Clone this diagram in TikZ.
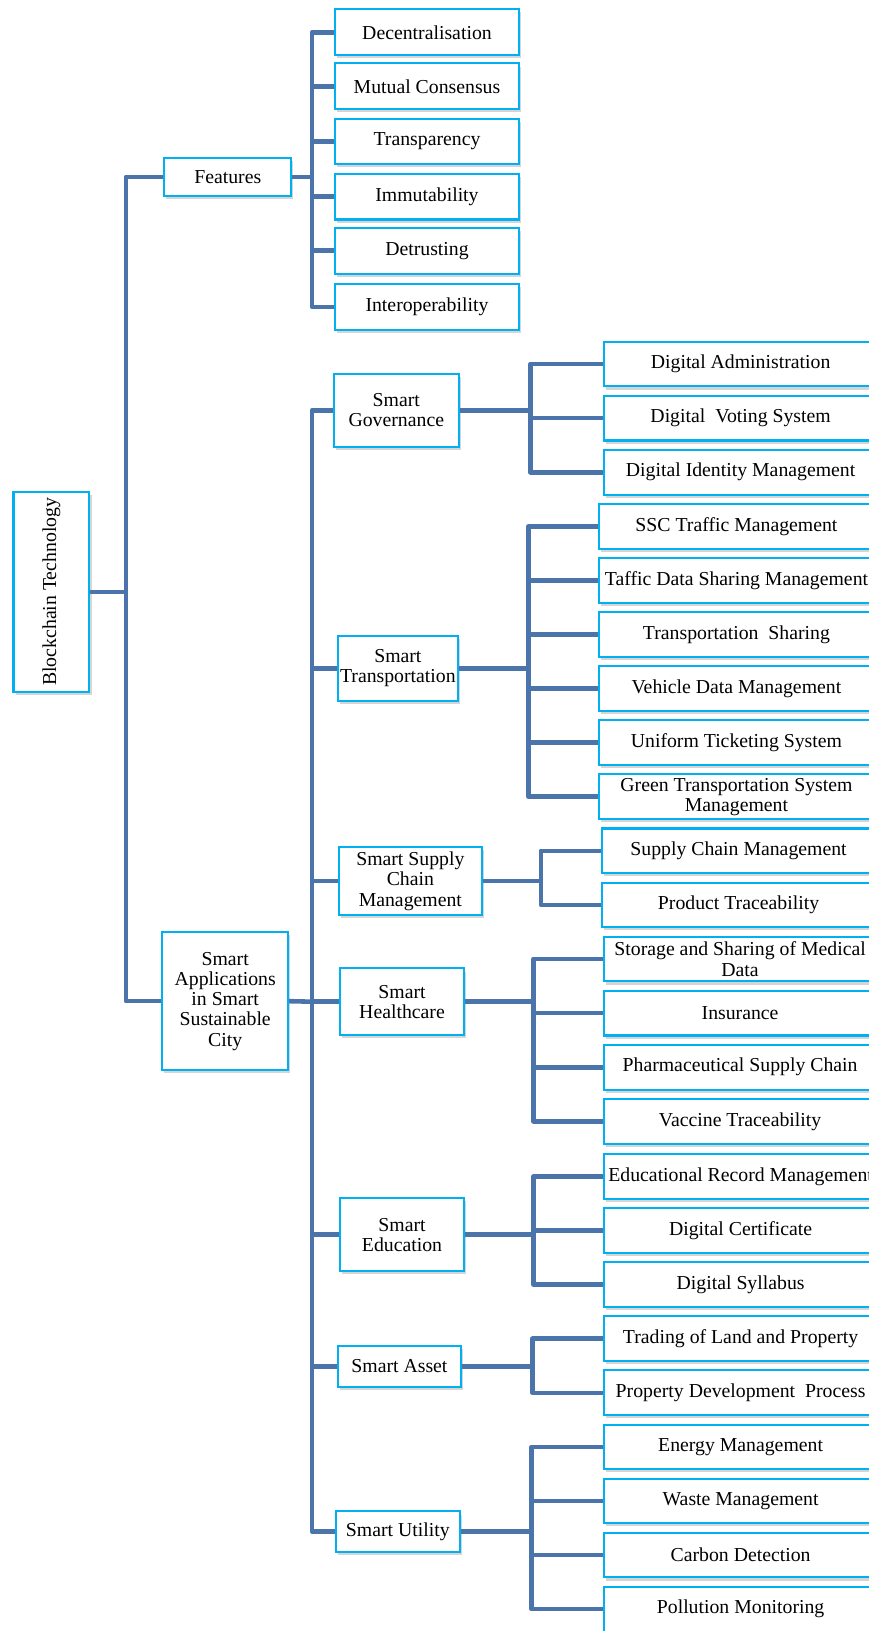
\documentclass[tikz,border=0pt]{standalone}
\usepackage{fontspec}
\setmainfont{Liberation Serif}
\usetikzlibrary{shadows}
\definecolor{linkblue}{HTML}{4A74AA}
\definecolor{edgecyan}{HTML}{00B0F0}
\pgfdeclarelayer{bg}
\pgfsetlayers{bg,main}
\begin{document}
\begin{tikzpicture}[x=1pt,y=-1pt,
  box/.style={draw=edgecyan, line width=2pt, fill=white, align=center,
    inner sep=0pt, font=\fontsize{19}{19.5}\selectfont,
    drop shadow={shadow xshift=2pt, shadow yshift=-3pt, opacity=0.3, fill=black!55}},
  featbox/.style={box, minimum width=177pt, minimum height=44pt},
  leafbox/.style={box, minimum width=262pt, minimum height=43pt},
  conn/.style={draw=linkblue, line width=4.4pt, line join=round}]
\useasboundingbox (0,0) rectangle (835,1568);

% root and first level
\node[box, minimum width=73pt, minimum height=192pt] (bt) at (49.5,569) {\rotatebox{90}{Blockchain Technology}};
\node[box, minimum width=122pt, minimum height=36pt] (feat) at (219,170) {Features};
\node[box, minimum width=121pt, minimum height=133pt] (apps) at (216.5,962.5) {Smart\\Applications\\in Smart\\Sustainable\\City};

% features
\node[featbox] (dec) at (410.5,31) {Decentralisation};
\node[featbox] (mut) at (410.5,83) {Mutual Consensus};
\node[featbox] (tra) at (410.5,136) {Transparency};
\node[featbox] (imm) at (410.5,189) {Immutability};
\node[featbox] (det) at (410.5,241) {Detrusting};
\node[featbox] (itp) at (410.5,295) {Interoperability};

% application areas
\node[box, minimum width=120pt, minimum height=70pt] (gov) at (381,394.5) {Smart\\Governance};
\node[box, minimum width=115pt, minimum height=63pt] (trn) at (382.5,642.5) {Smart\\Transportation};
\node[box, minimum width=137pt, minimum height=66pt] (sup) at (394.5,847) {Smart Supply\\Chain\\Management};
\node[box, minimum width=119pt, minimum height=64pt] (hlt) at (386.5,963) {Smart\\Healthcare};
\node[box, minimum width=119pt, minimum height=70pt] (edu) at (386.5,1187) {Smart\\Education};
\node[box, minimum width=118pt, minimum height=39pt] (ast) at (384,1313.5) {Smart Asset};
\node[box, minimum width=119pt, minimum height=39pt] (utl) at (382.5,1472.5) {Smart Utility};

% governance
\node[leafbox] (g1) at (712,350) {Digital Administration};
\node[leafbox] (g2) at (712,402) {Digital\ \ Voting System};
\node[leafbox] (g3) at (712,454) {Digital Identity Management};
% transportation
\node[leafbox, minimum width=264pt] (t1) at (708,506) {SSC Traffic Management};
\node[leafbox, minimum width=264pt] (t2) at (708,558) {Taffic Data Sharing Management};
\node[leafbox, minimum width=264pt] (t3) at (708,610) {Transportation\ \ Sharing};
\node[leafbox, minimum width=264pt] (t4) at (708,662) {Vehicle Data Management};
\node[leafbox, minimum width=264pt] (t5) at (708,714) {Uniform Ticketing System};
\node[leafbox, minimum width=264pt] (t6) at (708,766) {Green Transportation System\\Management};
% supply chain
\node[leafbox] (s1) at (710,818) {Supply Chain Management};
\node[leafbox] (s2) at (710,870) {Product Traceability};
% healthcare
\node[leafbox] (h1) at (711.5,922) {Storage and Sharing of Medical\\Data};
\node[leafbox] (h2) at (711.5,974) {Insurance};
\node[leafbox] (h3) at (711.5,1026) {Pharmaceutical Supply Chain};
\node[leafbox] (h4) at (711.5,1078) {Vaccine Traceability};
% education
\node[leafbox] (e1) at (712,1131) {Educational Record Management};
\node[leafbox] (e2) at (712,1183) {Digital Certificate};
\node[leafbox] (e3) at (712,1235) {Digital Syllabus};
% asset
\node[leafbox] (a1) at (712,1287) {Trading of Land and Property};
\node[leafbox] (a2) at (712,1339) {Property Development\ \ Process};
% utility
\node[leafbox] (u1) at (712,1391) {Energy Management};
\node[leafbox] (u2) at (712,1443) {Waste Management};
\node[leafbox] (u3) at (712,1495) {Carbon Detection};
\node[leafbox] (u4) at (712,1547) {Pollution Monitoring};

% junction points of the trunks
\coordinate (j0) at (121,569);
\coordinate (jf) at (300,170);
\coordinate (ja) at (300,963);
\coordinate (jg) at (510,394.5);
\coordinate (jt) at (508,642.5);
\coordinate (js) at (520,847);
\coordinate (jh) at (513,963);
\coordinate (je) at (513,1187);
\coordinate (jas) at (512,1313.5);
\coordinate (ju) at (511,1472.5);

\begin{pgfonlayer}{bg}
\draw[conn] (bt.east) -- (j0);
\foreach \n in {feat,apps} \draw[conn] (\n.west) -| (j0);
\draw[conn] (feat.east) -- (jf);
\foreach \n in {dec,mut,tra,imm,det,itp} \draw[conn] (\n.west) -| (jf);
\draw[conn] (apps.east) -- (ja);
\foreach \n in {gov,trn,sup,hlt,edu,ast,utl} \draw[conn] (\n.west) -| (ja);
\draw[conn] (gov.east) -- (jg);
\foreach \n in {g1,g2,g3} \draw[conn] (\n.west) -| (jg);
\draw[conn] (trn.east) -- (jt);
\foreach \n in {t1,t2,t3,t4,t5,t6} \draw[conn] (\n.west) -| (jt);
\draw[conn] (sup.east) -- (js);
\foreach \n in {s1,s2} \draw[conn] (\n.west) -| (js);
\draw[conn] (hlt.east) -- (jh);
\foreach \n in {h1,h2,h3,h4} \draw[conn] (\n.west) -| (jh);
\draw[conn] (edu.east) -- (je);
\foreach \n in {e1,e2,e3} \draw[conn] (\n.west) -| (je);
\draw[conn] (ast.east) -- (jas);
\foreach \n in {a1,a2} \draw[conn] (\n.west) -| (jas);
\draw[conn] (utl.east) -- (ju);
\foreach \n in {u1,u2,u3,u4} \draw[conn] (\n.west) -| (ju);
\end{pgfonlayer}
\end{tikzpicture}
\end{document}
